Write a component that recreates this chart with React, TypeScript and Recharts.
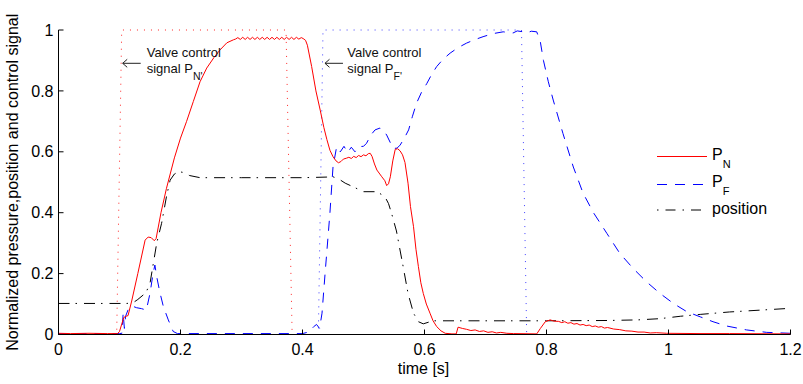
import React from 'react';
import { LineChart, Line, XAxis, YAxis, ReferenceDot, Legend } from 'recharts';

const FONT = '"Liberation Sans", Arial, Helvetica, sans-serif';

// Axis ticks
const timeTicks = [0, 0.2, 0.4, 0.6, 0.8, 1, 1.2];
const valueTicks = [0, 0.2, 0.4, 0.6, 0.8, 1];

// Valve control signals (normalized, 0 = closed, 1 = open)
const ctrlN: [number, number][] = [
  [0, 0], [0.0954, 0], [0.1036, 1], [0.373, 1], [0.383, 0], [1.2, 0],
];
const ctrlF: [number, number][] = [
  [0, 0], [0.426, 0], [0.4336, 1], [0.759, 1], [0.7675, 0], [1.2, 0],
];

// Normalized pressure P_N
const pnSamples: [number, number][] = [
  [0, 0.004], [0.02, 0.003], [0.05, 0.004], [0.08, 0.003], [0.097, 0.003],
  [0.1, 0.01], [0.107, 0.056], [0.111, 0.06], [0.114, 0.062], [0.12, 0.11],
  [0.13, 0.2], [0.142, 0.31], [0.147, 0.32], [0.152, 0.318], [0.157, 0.308],
  [0.16, 0.315], [0.168, 0.4], [0.177, 0.48], [0.19, 0.58], [0.2, 0.645],
  [0.21, 0.7], [0.221, 0.765], [0.232, 0.83], [0.243, 0.875], [0.255, 0.91],
  [0.265, 0.935], [0.276, 0.958], [0.287, 0.968],
  [0.29, 0.97], [0.294, 0.975], [0.298, 0.969], [0.302, 0.976], [0.306, 0.969],
  [0.31, 0.976], [0.314, 0.969], [0.318, 0.976], [0.322, 0.969], [0.326, 0.976],
  [0.33, 0.969], [0.334, 0.976], [0.338, 0.969], [0.342, 0.976], [0.346, 0.969],
  [0.35, 0.976], [0.354, 0.969], [0.358, 0.976], [0.362, 0.969], [0.366, 0.976],
  [0.37, 0.969], [0.374, 0.976], [0.378, 0.969], [0.382, 0.976], [0.386, 0.969],
  [0.39, 0.976], [0.394, 0.97], [0.398, 0.975], [0.401, 0.972],
  [0.405, 0.966], [0.408, 0.95], [0.415, 0.88], [0.422, 0.8], [0.429, 0.737],
  [0.435, 0.68], [0.44, 0.64], [0.445, 0.605], [0.45, 0.584], [0.455, 0.57],
  [0.459, 0.564], [0.463, 0.568], [0.467, 0.576], [0.472, 0.579], [0.476, 0.582],
  [0.48, 0.578], [0.484, 0.585], [0.488, 0.581], [0.492, 0.588], [0.496, 0.584],
  [0.5, 0.59], [0.504, 0.587], [0.508, 0.594], [0.511, 0.595], [0.514, 0.585],
  [0.518, 0.56], [0.522, 0.54], [0.53, 0.518], [0.535, 0.505], [0.538, 0.489],
  [0.541, 0.495], [0.544, 0.518], [0.548, 0.57], [0.552, 0.608], [0.556, 0.61],
  [0.56, 0.603], [0.564, 0.59], [0.568, 0.565], [0.573, 0.497], [0.577, 0.42],
  [0.582, 0.354], [0.586, 0.28], [0.59, 0.223], [0.594, 0.17], [0.598, 0.135],
  [0.603, 0.1], [0.609, 0.07], [0.614, 0.045], [0.62, 0.026], [0.627, 0.012],
  [0.634, 0.004], [0.645, 0.002], [0.652, 0.002], [0.655, 0.024], [0.662, 0.02],
  [0.669, 0.017], [0.676, 0.013], [0.683, 0.015], [0.69, 0.01], [0.697, 0.012],
  [0.704, 0.007], [0.711, 0.009], [0.718, 0.005], [0.725, 0.007], [0.735, 0.004],
  [0.746, 0.003], [0.784, 0.002], [0.79, 0.02], [0.798, 0.042], [0.806, 0.048],
  [0.812, 0.044], [0.82, 0.043], [0.825, 0.039], [0.83, 0.042], [0.835, 0.037],
  [0.84, 0.039], [0.845, 0.034], [0.85, 0.036], [0.855, 0.031], [0.86, 0.033],
  [0.865, 0.029], [0.87, 0.031], [0.875, 0.026], [0.88, 0.028], [0.885, 0.024],
  [0.89, 0.026], [0.895, 0.021], [0.9, 0.023], [0.91, 0.018], [0.92, 0.016],
  [0.93, 0.012], [0.94, 0.011], [0.95, 0.008], [0.96, 0.008], [0.97, 0.005],
  [0.98, 0.006], [0.997, 0.004], [1.05, 0.003], [1.1, 0.003], [1.2, 0.002],
];

// Normalized pressure P_F
const pfSamples: [number, number][] = [
  [0, 0.003], [0.1, 0.003], [0.104, 0.004], [0.106, 0.07], [0.108, 0.02],
  [0.11, 0.06], [0.115, 0.086], [0.12, 0.094], [0.128, 0.088], [0.136, 0.085],
  [0.144, 0.08], [0.15, 0.135], [0.155, 0.2], [0.158, 0.228], [0.161, 0.19],
  [0.166, 0.14], [0.172, 0.091], [0.18, 0.048], [0.188, 0.01], [0.195, 0.003],
  [0.4, 0.003], [0.41, 0.008], [0.418, 0.025], [0.423, 0.033], [0.428, 0.02],
  [0.432, 0.07], [0.437, 0.2], [0.445, 0.4], [0.45, 0.55], [0.456, 0.617],
  [0.462, 0.6], [0.468, 0.618], [0.474, 0.598], [0.48, 0.615], [0.486, 0.6],
  [0.492, 0.617], [0.5, 0.618], [0.505, 0.628], [0.512, 0.655], [0.519, 0.672],
  [0.527, 0.678], [0.533, 0.67], [0.538, 0.655], [0.544, 0.63], [0.549, 0.611],
  [0.555, 0.612], [0.56, 0.622], [0.567, 0.645], [0.574, 0.672], [0.58, 0.715],
  [0.587, 0.76], [0.595, 0.795], [0.604, 0.825], [0.612, 0.855], [0.62, 0.88],
  [0.63, 0.903], [0.642, 0.924], [0.655, 0.942], [0.669, 0.957], [0.682, 0.968],
  [0.696, 0.978], [0.712, 0.988], [0.729, 0.994], [0.745, 0.99], [0.752, 0.997],
  [0.762, 0.994], [0.767, 0.99], [0.775, 0.996], [0.784, 0.994], [0.79, 0.96],
  [0.795, 0.9], [0.803, 0.83], [0.811, 0.77], [0.827, 0.66], [0.844, 0.55],
  [0.86, 0.464], [0.877, 0.4], [0.899, 0.332], [0.92, 0.267], [0.942, 0.217],
  [0.964, 0.173], [0.986, 0.135], [1.008, 0.102], [1.03, 0.075], [1.052, 0.058],
  [1.073, 0.042], [1.095, 0.028], [1.128, 0.015], [1.161, 0.007], [1.2, 0.004],
];

// Normalized piston position
const posSamples: [number, number][] = [
  [0, 0.102], [0.112, 0.102], [0.122, 0.104], [0.13, 0.115], [0.139, 0.13],
  [0.145, 0.145], [0.15, 0.168], [0.156, 0.24], [0.161, 0.3], [0.169, 0.365],
  [0.177, 0.453], [0.183, 0.507], [0.19, 0.527], [0.197, 0.535], [0.205, 0.532],
  [0.215, 0.522], [0.232, 0.515], [0.3, 0.515], [0.4, 0.515], [0.44, 0.517],
  [0.45, 0.518], [0.46, 0.51], [0.47, 0.497], [0.483, 0.485], [0.5, 0.469],
  [0.522, 0.469], [0.535, 0.453], [0.541, 0.43], [0.546, 0.398], [0.554, 0.34],
  [0.565, 0.223], [0.573, 0.135], [0.582, 0.07], [0.59, 0.042], [0.598, 0.035],
  [0.606, 0.04], [0.614, 0.045], [0.7, 0.045], [0.8, 0.045], [0.9, 0.046],
  [0.95, 0.048], [0.986, 0.052], [1.02, 0.06], [1.052, 0.066], [1.1, 0.074],
  [1.15, 0.08], [1.2, 0.086],
];

// Where the two annotation arrows point (time, value)
const noteN = { t: 0.1036, v: 0.8906 };
const noteF = { t: 0.4352, v: 0.8906 };

const toRows = (s: [number, number][]) => s.map(([t, v]) => ({ t, v }));

const makeNote = (sub: string, textDx: number) => (props: any) => {
  const vb = props.viewBox || { x: 0, y: 0, width: 0, height: 0 };
  const x = vb.x + (vb.width || 0) / 2;
  const y = vb.y + (vb.height || 0) / 2;
  return (
    <g fontFamily={FONT}>
      <line x1={x + 1} y1={y} x2={x + 19} y2={y} stroke="#222" strokeWidth={1} />
      <polyline
        points={`${x + 5.5},${y - 4} ${x + 1},${y} ${x + 5.5},${y + 4}`}
        fill="none"
        stroke="#222"
        strokeWidth={1}
      />
      <text x={x + textDx} y={y - 6.6} fontSize={13} fill="#111">
        Valve control
      </text>
      <text x={x + textDx} y={y + 9.2} fontSize={13} fill="#111">
        signal P
        <tspan fontSize={10.5} dy={7}>
          {sub}'
        </tspan>
      </text>
    </g>
  );
};

const yLabel = (props: any) => {
  const vb = props.viewBox || { x: 0, y: 0, width: 0, height: 0 };
  const x = vb.x + 17.5;
  const y = vb.y + vb.height / 2;
  return (
    <text
      x={x}
      y={y}
      transform={`rotate(-90, ${x}, ${y})`}
      textAnchor="middle"
      fontSize={16}
      fontFamily={FONT}
      fill="#000"
    >
      Normalized pressure,position and control signal
    </text>
  );
};

const xLabel = (props: any) => {
  const vb = props.viewBox || { x: 0, y: 0, width: 0, height: 0 };
  return (
    <text
      x={vb.x + vb.width / 2 - 1}
      y={vb.y + 39.5}
      textAnchor="middle"
      fontSize={16}
      fontFamily={FONT}
      fill="#000"
    >
      time [s]
    </text>
  );
};

// Time tick labels: centred under each tick, baseline just below the axis
const TimeTick = (props: any) => (
  <text
    x={props.x}
    y={props.y + 11.4}
    textAnchor="middle"
    fontSize={16}
    fontFamily={FONT}
    fill="#000"
  >
    {String(props.payload.value)}
  </text>
);

const LegendBox = () => (
  <svg width={140} height={82} style={{ display: 'block', overflow: 'visible' }} fontFamily={FONT}>
    <line x1={7} x2={57} y1={16.5} y2={16.5} stroke="#ff0000" strokeWidth={1} />
    <text x={62} y={20} fontSize={16} fill="#000">
      P<tspan fontSize={11} dy={8}>N</tspan>
    </text>
    <line x1={7} x2={57} y1={44.5} y2={44.5} stroke="#0000ff" strokeWidth={1} strokeDasharray="10 8" />
    <text x={62} y={46.7} fontSize={16} fill="#000">
      P<tspan fontSize={11} dy={8.3}>F</tspan>
    </text>
    <line x1={7} x2={57} y1={70} y2={70} stroke="#000" strokeWidth={1} strokeDasharray="1.5 7 10 7" />
    <text x={62} y={74} fontSize={16} fill="#000">
      position
    </text>
  </svg>
);

export default function App() {
  const tickStyle = { fill: '#000', fontSize: 16, fontFamily: FONT };
  return (
    <div style={{ position: 'fixed', left: 0, top: 0, width: 803, height: 384, background: '#fff' }}>
      <LineChart
        width={803}
        height={384}
        margin={{ top: 30, right: 12.5, left: 0, bottom: 19.5 }}
      >
        <XAxis
          type="number"
          dataKey="t"
          domain={[0, 1.2]}
          ticks={timeTicks}
          interval={0}
          height={30}
          tickSize={-5}
          tickMargin={14}
          tick={TimeTick}
          axisLine={{ stroke: '#000' }}
          tickLine={{ stroke: '#000' }}
          label={xLabel}
        />
        <YAxis
          type="number"
          dataKey="v"
          domain={[0, 1]}
          ticks={valueTicks}
          interval={0}
          width={58.5}
          tickSize={-5}
          tickMargin={10}
          tick={tickStyle}
          axisLine={{ stroke: '#000' }}
          tickLine={{ stroke: '#000' }}
          tickFormatter={(v: number) => String(v)}
          label={yLabel}
        />
        <Line
          data={toRows(ctrlN)}
          dataKey="v"
          type="linear"
          stroke="#ff0000"
          strokeOpacity={0.85}
          strokeWidth={1}
          strokeDasharray="1 6"
          dot={false}
          activeDot={false}
          isAnimationActive={false}
        />
        <Line
          data={toRows(ctrlF)}
          dataKey="v"
          type="linear"
          stroke="#0000ff"
          strokeOpacity={0.75}
          strokeWidth={1}
          strokeDasharray="1 6"
          dot={false}
          activeDot={false}
          isAnimationActive={false}
        />
        <Line
          data={toRows(posSamples)}
          dataKey="v"
          type="linear"
          stroke="#000"
          strokeWidth={1}
          strokeDasharray="11 6 1.5 7"
          dot={false}
          activeDot={false}
          isAnimationActive={false}
        />
        <Line
          data={toRows(pfSamples)}
          dataKey="v"
          type="linear"
          stroke="#0000ff"
          strokeWidth={1}
          strokeDasharray="10 8"
          dot={false}
          activeDot={false}
          isAnimationActive={false}
        />
        <Line
          data={toRows(pnSamples)}
          dataKey="v"
          type="linear"
          stroke="#ff0000"
          strokeWidth={1}
          dot={false}
          activeDot={false}
          isAnimationActive={false}
        />
        <ReferenceDot x={noteN.t} y={noteN.v} r={1} fill="none" stroke="none" label={makeNote('N', 25)} />
        <ReferenceDot x={noteF.t} y={noteF.v} r={1} fill="none" stroke="none" label={makeNote('F', 23.3)} />
        <Legend
          layout="horizontal"
          verticalAlign="middle"
          align="center"
          content={LegendBox}
          wrapperStyle={{ left: 650, top: 140, width: 140, height: 82 }}
        />
      </LineChart>
    </div>
  );
}
